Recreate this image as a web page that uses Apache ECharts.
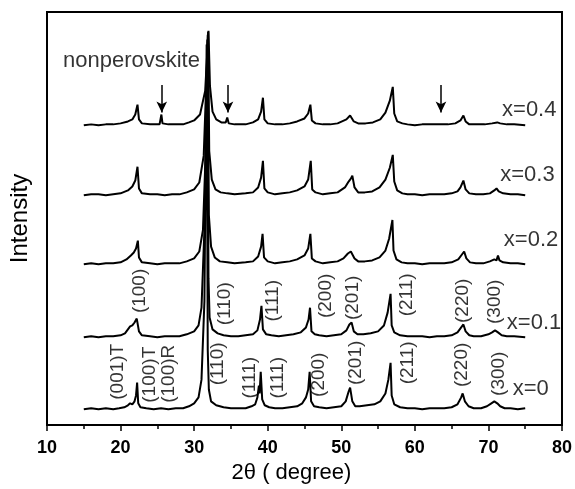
<!DOCTYPE html>
<html>
<head>
<meta charset="utf-8">
<script src="https://cdn.jsdelivr.net/npm/echarts@6/dist/echarts.min.js"></script>
<style>
html, body { margin: 0; padding: 0; background: #fff; }
#xrdChart { width: 575px; height: 489px; }
</style>
</head>
<body>
<div id="xrdChart"></div>
<script>
// 各样品名称和堆叠偏移
var sampleNames = ['x=0', 'x=0.1', 'x=0.2', 'x=0.3', 'x=0.4'];
var sampleOffsets = [16, 89, 163, 233, 304];

// 2θ, intensity (相对本底)
var pattern0 = [[15,0],[16,1],[17,0],[18,1],[19,0],[19.8,1],[20.5,2],[21.0,4],[21.3,6],[21.6,5],[21.9,8],[22.1,14],[22.25,27],[22.4,6],[22.7,2],[23.5,1],[24.5,0],[25.5,1],[26.5,0],[27.5,1],[28.5,1],[29.3,3],[30.0,6],[30.6,12],[31.0,30],[31.4,110],[31.7,370],[31.85,60],[32.0,20],[32.3,8],[33,4],[34,2],[35,1],[36,1],[37,1],[37.8,3],[38.3,5],[38.6,12],[38.8,24],[38.9,16],[39.05,38],[39.25,10],[39.6,4],[40.2,2],[41,1],[42,1],[43,2],[44,3],[44.7,6],[45.2,12],[45.5,20],[45.7,38],[45.9,8],[46.3,3],[47,2],[48,1],[49,2],[50,3],[50.6,8],[51.0,18],[51.2,22],[51.5,8],[51.9,3],[52.5,3],[53.5,4],[54.5,5],[55.3,8],[56.0,16],[56.4,30],[56.7,47],[56.85,14],[57.2,5],[58,2],[59,1],[60,1],[61,0],[62,1],[63,1],[64,1],[65,2],[65.8,5],[66.3,12],[66.5,16],[66.8,8],[67.3,3],[68,1],[69,1],[69.8,3],[70.4,6],[70.8,8],[71.2,6],[71.6,3],[72.2,1],[73,1],[74,0],[75,1]];
var pattern1 = [[15,0],[16,1],[17,0],[18,1],[19,1],[20,2],[20.6,4],[21.0,8],[21.3,11],[21.6,12],[21.9,15],[22.2,19],[22.35,20],[22.5,6],[22.9,2],[24,1],[25,0],[26,1],[27,1],[28,1],[29,3],[30,6],[30.6,12],[31.0,30],[31.45,120],[31.8,302],[31.95,60],[32.1,20],[32.5,8],[33.2,4],[34,2],[35,1],[36,1],[37,2],[38,3],[38.6,7],[38.95,18],[39.15,32],[39.35,8],[39.8,3],[40.5,2],[41.5,1],[42.5,2],[43.5,3],[44.5,5],[45.2,10],[45.55,18],[45.75,30],[45.95,6],[46.4,3],[47,2],[48,1],[49,2],[50,3],[50.7,7],[51.1,13],[51.4,15],[51.7,6],[52.2,3],[53,3],[54,4],[55,6],[55.8,12],[56.3,25],[56.7,44],[56.85,12],[57.2,5],[58,2],[59,1],[60,1],[61,1],[62,0],[63,1],[64,1],[65,2],[65.8,5],[66.3,10],[66.6,13],[66.9,6],[67.4,2],[68,1],[69,1],[70,3],[70.5,5],[70.9,7],[71.3,5],[71.8,2],[72.5,1],[73.5,1],[75,0]];
var pattern2 = [[15,0],[16,1],[17,0],[18,1],[19,1],[20,2],[20.8,5],[21.4,9],[21.8,12],[22.1,16],[22.35,24],[22.5,7],[22.9,2],[24,1],[25,0],[26,1],[27,1],[28,1],[29,3],[30,6],[30.7,13],[31.2,35],[31.6,120],[31.85,233],[32.0,50],[32.3,18],[32.8,7],[33.5,3],[34.5,2],[35.5,1],[37,2],[38,3],[38.7,8],[39.1,18],[39.3,31],[39.5,7],[40,3],[41,1],[42,2],[43,3],[44,5],[45,9],[45.5,16],[45.8,31],[46,6],[46.5,3],[47.5,1],[48.5,2],[49.5,3],[50.3,6],[50.9,11],[51.3,13],[51.5,15],[51.8,6],[52.3,3],[53.2,3],[54.2,4],[55.2,7],[56,14],[56.5,26],[56.95,45],[57.1,14],[57.5,5],[58.2,2],[59,1],[60,1],[61,0],[62,1],[63,1],[64,1],[65,2],[65.9,5],[66.4,10],[66.7,13],[67,6],[67.5,2],[68.3,1],[69.3,1],[70.2,3],[70.8,5],[71.1,4],[71.3,9],[71.5,4],[72,2],[73,1],[74,1],[75,0]];
var pattern3 = [[15,0],[16,1],[17,1],[18,0],[19,1],[20,2],[21,5],[21.6,9],[22.0,15],[22.3,29],[22.5,7],[22.9,2],[24,1],[25,1],[26,0],[27,1],[28,1],[29,3],[30,6],[30.7,13],[31.3,40],[31.9,166],[32.05,45],[32.4,16],[32.9,6],[33.6,3],[34.5,2],[35.5,1],[37,2],[38,3],[38.7,8],[39.1,18],[39.35,35],[39.55,7],[40,3],[41,1],[42,2],[43,3],[44,5],[45,9],[45.5,16],[45.85,35],[46.05,6],[46.5,3],[47.5,1],[48.5,2],[49.5,3],[50.5,8],[51.0,14],[51.3,17],[51.5,20],[51.8,8],[52.3,3],[53.2,3],[54.2,4],[55.2,8],[56,16],[56.6,28],[57.0,41],[57.2,14],[57.6,5],[58.3,2],[59,1],[60,1],[61,0],[62,1],[63,1],[64,1],[65,2],[65.8,4],[66.2,8],[66.6,15],[66.9,6],[67.4,2],[68.3,1],[69.3,1],[70.2,2],[70.8,5],[71.1,7],[71.4,4],[72,2],[73,1],[74,1],[75,0]];
var pattern4 = [[15,0],[16,1],[17,0],[18,1],[19,1],[20,2],[21,4],[21.6,6],[22.0,11],[22.3,21],[22.5,6],[22.9,2],[24,1],[25.3,1],[25.55,11],[25.7,2],[26.5,1],[27.5,1],[28.5,1],[29.3,3],[30,5],[30.8,11],[31.5,35],[31.95,96],[32.15,40],[32.5,14],[33,6],[33.7,3],[34.3,3],[34.5,8],[34.7,2],[35.5,1],[37,1],[38,3],[38.7,6],[39.1,14],[39.35,28],[39.55,6],[40,2],[41,1],[42,1],[43,2],[44,4],[45,7],[45.5,12],[45.8,21],[46,5],[46.5,2],[47.5,1],[48.5,1],[49.5,2],[50.7,6],[51.2,10],[51.4,11],[51.7,4],[52.3,2],[53.3,2],[54.3,3],[55.3,6],[56,13],[56.6,25],[57.0,39],[57.2,12],[57.6,4],[58.3,2],[59,1],[60,0],[61,1],[62,1],[63.3,1],[63.5,3],[63.7,1],[64.5,1],[65.5,2],[66.2,5],[66.6,10],[66.9,4],[67.4,1],[68.5,1],[69.5,1],[70.5,2],[71.2,3],[71.6,2],[72.5,1],[73.5,1],[75,0]];
var patterns = [pattern0, pattern1, pattern2, pattern3, pattern4];

// 晶面标注 (竖排)
var hklLabels = ['(100)','(110)','(111)','(200)','(201)','(211)','(220)','(300)',
	'(001)T','(100)T','(100)R','(110)','(111)','(111)','(200)','(201)','(211)','(220)','(300)'];
var hklX = [22.6, 34.2, 40.7, 47.9, 51.6, 58.9, 66.5, 70.8,
	19.65, 24.0, 26.6, 33.2, 37.6, 41.4, 47.0, 52.0, 59.1, 66.4, 71.4];
var hklY = [136, 123, 126, 131, 129, 132, 126, 125,
	54, 51, 52, 62, 48, 48, 51, 63, 63, 61, 52];

// 样品名称标注位置
var nameX = [73.3, 72.5, 72.1, 71.6, 71.85];
var nameY = [37, 104, 188, 254, 320];

// 杂相箭头
var arrowX = [25.6, 34.6, 63.55];
var arrowTop = 345, arrowTip = 317;

var xTicks = [10, 20, 30, 40, 50, 60, 70, 80];

var fontName = '"Liberation Sans", Arial, sans-serif';

function buildSeries() {
	var list = [];
	for (var i = 0; i < patterns.length; i++) {
		var pts = [];
		for (var j = 0; j < patterns[i].length; j++) {
			pts.push([patterns[i][j][0], patterns[i][j][1] + sampleOffsets[i]]);
		}
		list.push({
			name: sampleNames[i],
			type: 'line',
			data: pts,
			showSymbol: false,
			symbol: 'none',
			silent: true,
			lineStyle: { color: '#000', width: 2 }
		});
	}
	// 竖排晶面标签
	var hklData = [];
	for (var k = 0; k < hklLabels.length; k++) {
		hklData.push({ name: hklLabels[k], value: [hklX[k], hklY[k]] });
	}
	list.push({
		type: 'scatter',
		data: hklData,
		symbolSize: 0,
		silent: true,
		label: {
			show: true,
			position: 'inside',
			rotate: 90,
			formatter: '{b}',
			color: '#000',
			fontFamily: fontName,
			fontSize: 19
		}
	});
	// 样品名称 + nonperovskite
	var nameData = [];
	for (var m = 0; m < sampleNames.length; m++) {
		nameData.push({ name: sampleNames[m], value: [nameX[m], nameY[m]] });
	}
	nameData.push({ name: 'nonperovskite', value: [12.17, 369] });
	list.push({
		type: 'scatter',
		data: nameData,
		symbolSize: 0,
		silent: true,
		label: {
			show: true,
			position: 'right',
			distance: 0,
			formatter: '{b}',
			color: '#000',
			fontFamily: fontName,
			fontSize: 22
		}
	});
	// 箭头
	var arrowData = [];
	for (var a = 0; a < arrowX.length; a++) {
		arrowData.push([{ coord: [arrowX[a], arrowTop] }, { coord: [arrowX[a], arrowTip] }]);
	}
	list.push({
		type: 'line',
		data: [],
		silent: true,
		markLine: {
			silent: true,
			symbol: ['none', 'arrow'],
			symbolSize: [8, 11],
			label: { show: false },
			lineStyle: { color: '#000', width: 1.5, type: 'solid' },
			data: arrowData
		}
	});
	return list;
}

var myChart = echarts.init(document.getElementById('xrdChart'));
var option = {
	animation: false,
	backgroundColor: '#fff',
	grid: {
		left: 47, right: 13, top: 12, bottom: 58,
		show: true, borderColor: '#000', borderWidth: 2
	},
	xAxis: {
		type: 'value',
		min: xTicks[0],
		max: xTicks[xTicks.length - 1],
		interval: 10,
		name: '2θ ( degree)',
		nameLocation: 'middle',
		nameGap: 37,
		nameTextStyle: { color: '#000', fontFamily: fontName, fontSize: 22, padding: [0, 26, 0, 0] },
		axisLine: { lineStyle: { color: '#000', width: 2 } },
		axisTick: { inside: false, length: 6, lineStyle: { color: '#000', width: 1.5 } },
		minorTick: { show: true, splitNumber: 2, length: 4, lineStyle: { color: '#000', width: 1.5 } },
		axisLabel: { color: '#000', fontFamily: fontName, fontSize: 18, fontWeight: 'bold', margin: 14 },
		splitLine: { show: false }
	},
	yAxis: {
		type: 'value',
		min: 0,
		max: 419,
		name: 'Intensity',
		nameLocation: 'middle',
		nameGap: 15,
		nameTextStyle: { color: '#000', fontFamily: fontName, fontSize: 24 },
		axisLine: { show: true, lineStyle: { color: '#000', width: 2 } },
		axisTick: { show: false },
		axisLabel: { show: false },
		splitLine: { show: false }
	},
	series: buildSeries()
};
myChart.setOption(option);
</script>
</body>
</html>
